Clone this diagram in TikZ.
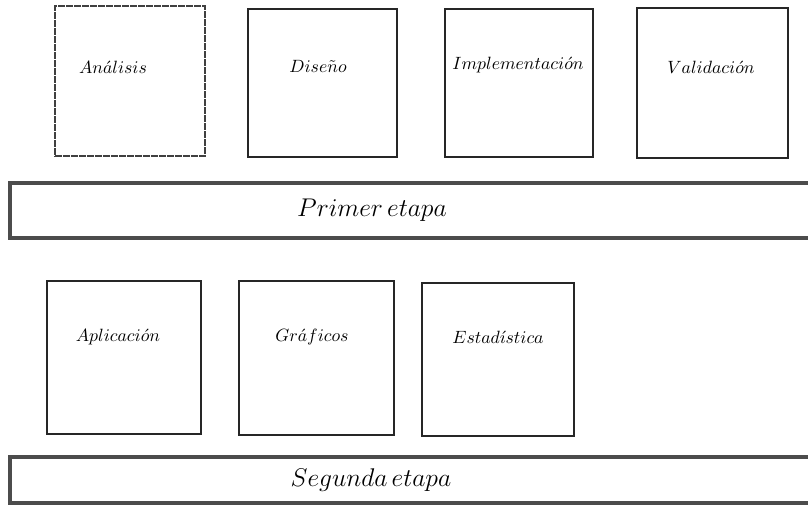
\documentclass[tikz,border=0pt]{standalone}
\usepackage{amsmath}
\usetikzlibrary{positioning}

\tikzset{
	taskbox/.style={draw, line width=1.1pt, color=black!85, inner sep=0pt},
	tasktext/.style={inner sep=0pt, font=\normalsize},
	stagebar/.style={line width=2.3pt, color=black!70, line cap=round},
	stagetext/.style={inner sep=0pt, font=\fontsize{14.6}{17}\selectfont}
}

\begin{document}
\begin{tikzpicture}[x=0.5625pt, y=-0.5625pt]
	\useasboundingbox (0,0) rectangle (808,505);
	% primera etapa
	\node[taskbox, dashed, dash pattern=on 4pt off 0.5pt, color=black!75, line width=1pt, minimum width=84.4pt, minimum height=84.4pt] (ana) at (130,81) {};
	\node[taskbox, minimum width=83.8pt, minimum height=83.3pt] (dis) at (322.5,83) {};
	\node[taskbox, minimum width=83.3pt, minimum height=83.3pt] (imp) at (519,83) {};
	\node[taskbox, minimum width=84.9pt, minimum height=84.4pt] (val) at (712.5,83) {};
	\node[tasktext] (tana) at (113,67) {$An\acute{a}lisis$};
	\node[tasktext] (tdis) at (318,66) {$Dise\tilde{n}o$};
	\node[tasktext] (timp) at (518,65) {$Implementaci\acute{o}n$};
	\node[tasktext] (tval) at (711,67) {$Validaci\acute{o}n$};
	\coordinate (P1) at (812,183);
	\coordinate (P2) at (10,183);
	\coordinate (P3) at (10,238);
	\coordinate (P4) at (812,238);
	\draw[stagebar] (P1) -- (P2) -- (P3) -- (P4);
	\node[stagetext] (prim) at (372,210) {$Primer\,etapa$};
	% segunda etapa
	\node[taskbox, minimum width=86.6pt, minimum height=86.1pt] (apl) at (124,357.5) {};
	\node[taskbox, minimum width=87.2pt, minimum height=86.6pt] (gra) at (316.5,358) {};
	\node[taskbox, minimum width=85.5pt, minimum height=86.1pt] (est) at (498,359.5) {};
	\node[tasktext] (tapl) at (118,337) {$Aplicaci\acute{o}n$};
	\node[tasktext] (tgra) at (312,337) {$Gr\acute{a}ficos$};
	\node[tasktext] (test) at (498,337) {$Estad\acute{\imath}stica$};
	\coordinate (S1) at (812,457);
	\coordinate (S2) at (10,457);
	\coordinate (S3) at (10,503);
	\coordinate (S4) at (812,503);
	\draw[stagebar] (S1) -- (S2) -- (S3) -- (S4);
	\node[stagetext] (segu) at (371,480) {$Segunda\,etapa$};
\end{tikzpicture}
\end{document}
